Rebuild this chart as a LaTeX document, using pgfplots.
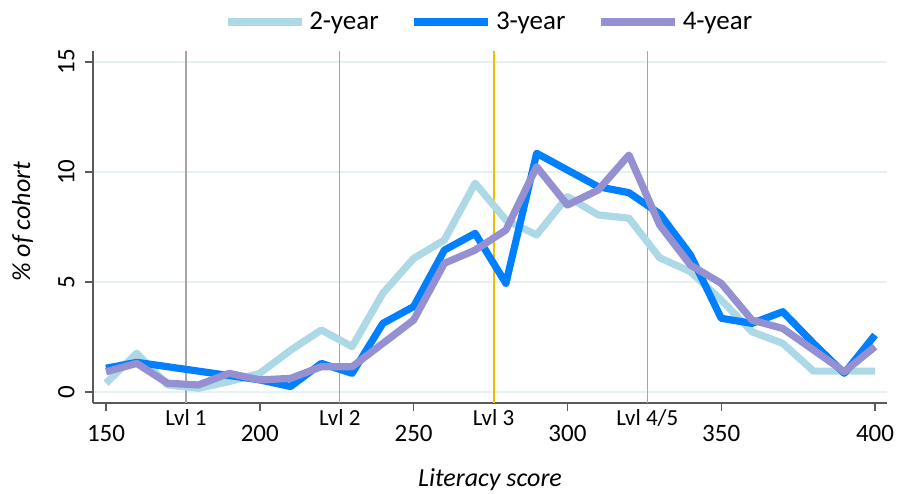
\documentclass[border=0pt]{standalone}
\usepackage{fontspec}
\setmainfont{Carlito}
\usepackage{pgfplots}
\pgfplotsset{compat=1.18}
\definecolor{c2}{RGB}{173,216,230}
\definecolor{c3}{RGB}{0,128,255}
\definecolor{c4}{RGB}{149,144,210}
\definecolor{lvlgray}{RGB}{165,165,165}
\definecolor{lvlgold}{RGB}{240,190,0}
\definecolor{gridc}{RGB}{232,241,242}
\definecolor{axc}{RGB}{90,90,90}
\begin{document}
\begin{tikzpicture}[x=1pt,y=1pt]
\begin{axis}[
  at={(0,0)}, anchor=south west,
  scale only axis, width=397pt, height=176pt,
  xmin=145.77, xmax=403.9, ymin=-0.5, ymax=15.5,
  axis x line*=bottom, axis y line*=left,
  axis line style={axc, line width=0.8pt, -},
  xtick={150,200,...,400}, ytick={0,5,10,15},
  tick align=outside, major tick length=3.8pt,
  tick style={axc, line width=0.7pt},
  ymajorgrids, grid style={gridc, line width=0.6pt},
  xticklabel style={font=\fontsize{12.5}{14}\selectfont, anchor=base, yshift=-15.5pt},
  yticklabel style={font=\fontsize{12.5}{14}\selectfont, xshift=-5.5pt, rotate=90, anchor=base},
  /pgf/number format/assume math mode=true,
  extra x ticks={176,226,276,326},
  extra x tick labels={Lvl 1, Lvl 2, Lvl 3, Lvl 4/5},
  extra x tick style={major tick length=0pt, grid=none,
    xticklabel style={font=\fontsize{11.5}{13}\selectfont, yshift=4.2pt}},
  xlabel={\itshape Literacy score},
  ylabel={\itshape \% of cohort},
  xlabel style={font=\fontsize{13}{15}\selectfont, at={(axis description cs:0.5,-0.2386)}, anchor=base},
  ylabel style={font=\fontsize{13}{15}\selectfont, at={(axis description cs:-0.0793,0.515)}, anchor=base},
  legend columns=3,
  legend style={at={(0.5,1)}, anchor=center, yshift=14.5pt, draw=none, fill=none,
    font=\fontsize{13.5}{15}\selectfont,
    /tikz/every even column/.append style={column sep=14pt}},
  legend image code/.code={\draw[#1, line width=3.7pt] (-4pt,0pt) -- (33pt,0pt);},
  every axis plot/.append style={line join=round},
]
\addplot[lvlgray, line width=0.7pt, forget plot] coordinates {(176,-0.5) (176,15.5)};
\addplot[lvlgray, line width=0.7pt, forget plot] coordinates {(226,-0.5) (226,15.5)};
\addplot[draw=lvlgold, line width=1pt, forget plot] coordinates {(276,-0.5) (276,15.5)};
\addplot[lvlgray, line width=0.7pt, forget plot] coordinates {(326,-0.5) (326,15.5)};
\addplot[c2, line width=3.6pt] table {
x y
150 0.40
160 1.76
170 0.32
180 0.17
190 0.47
200 0.85
210 1.90
220 2.82
230 2.06
240 4.49
250 6.07
260 6.91
270 9.49
280 7.82
290 7.14
300 8.88
310 8.05
320 7.90
330 6.10
340 5.47
350 4.18
360 2.74
370 2.21
380 0.95
390 0.95
400 0.95
};
\addlegendentry{2-year}
\addplot[c3, line width=3.6pt] table {
x y
150 1.08
160 1.35
170 1.15
180 0.95
190 0.75
200 0.55
210 0.25
220 1.30
230 0.85
240 3.12
250 3.88
260 6.45
270 7.21
280 4.94
290 10.85
300 10.09
310 9.33
320 9.06
330 8.10
340 6.23
350 3.35
360 3.12
370 3.65
380 2.21
390 0.85
400 2.59
};
\addlegendentry{3-year}
\addplot[c4, line width=3.6pt] table {
x y
150 0.92
160 1.30
170 0.40
180 0.32
190 0.85
200 0.55
210 0.62
220 1.15
230 1.15
240 2.21
250 3.27
260 5.85
270 6.45
280 7.36
290 10.24
300 8.50
310 9.18
320 10.77
330 7.59
340 5.77
350 4.94
360 3.27
370 2.89
380 1.91
390 0.92
400 2.06
};
\addlegendentry{4-year}
\end{axis}
\pgfresetboundingbox
\useasboundingbox (-46.5,-45) rectangle (402,201.5);
\end{tikzpicture}
\end{document}
